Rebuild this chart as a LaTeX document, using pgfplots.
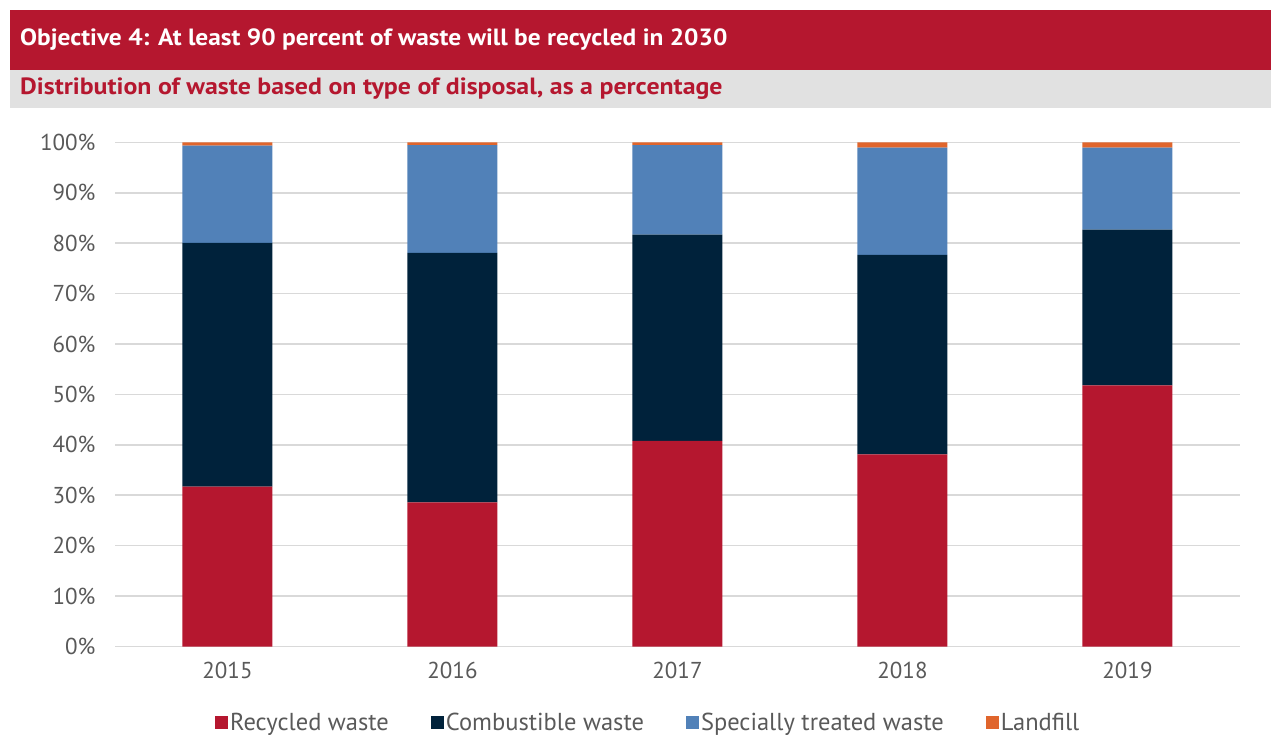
\documentclass[border=0pt]{standalone}
\usepackage{pgfplots}
\pgfplotsset{compat=1.18}
\usepackage{fontspec}
\setmainfont{PT Sans}
\newfontfamily\titlefont[FakeStretch=1.08]{PT Sans}
\newfontfamily\subfont[FakeStretch=1.1]{PT Sans}
\definecolor{hdrred}{HTML}{B5172F}
\definecolor{bandgray}{HTML}{E1E1E1}
\definecolor{navy}{HTML}{00223B}
\definecolor{sblue}{HTML}{5181B8}
\definecolor{lorange}{HTML}{E0652C}
\definecolor{gridgray}{HTML}{D9D9D9}
\definecolor{txtgray}{HTML}{595959}
\begin{document}
\begin{tikzpicture}
\path[use as bounding box] (0pt,0pt) rectangle (1271pt,736pt);
\fill[hdrred] (10pt,726pt) rectangle (1271pt,666pt);
\fill[bandgray] (10pt,666pt) rectangle (1271pt,628pt);
\node[anchor=west, text=white, inner sep=0pt, font=\titlefont\fontsize{23.5}{26}\selectfont\bfseries] at (20pt,696pt) {Objective 4: At least 90 percent of waste will be recycled in 2030};
\node[anchor=west, text=hdrred, inner sep=0pt, font=\subfont\fontsize{23.5}{26}\selectfont\bfseries] at (20pt,647.5pt) {Distribution of waste based on type of disposal, as a percentage};
\begin{axis}[
  at={(115pt,89.5pt)}, anchor=south west,
  scale only axis, width=1125pt, height=504pt,
  ybar stacked, bar width=90pt,
  xmin=-0.5, xmax=4.5, ymin=0, ymax=100,
  xtick={0,1,2,3,4}, xticklabels={2015,2016,2017,2018,2019},
  ytick={0,10,20,30,40,50,60,70,80,90,100},
  yticklabels={0\%,10\%,20\%,30\%,40\%,50\%,60\%,70\%,80\%,90\%,100\%},
  ymajorgrids, grid style={draw=gridgray, line width=1.6pt},
  axis line style={draw=none},
  major tick length=0pt,
  tick label style={text=txtgray, font=\fontsize{23}{26}\selectfont},
  yticklabel style={anchor=east, xshift=-16pt},
  xticklabel style={anchor=north, yshift=-12pt},
  legend style={at={(0.474,-0.151)}, anchor=center, draw=none, fill=none,
    legend columns=4, font=\fontsize{24.5}{27}\selectfont, text=txtgray,
    /tikz/every even column/.append style={column sep=40pt}},
  legend image code/.code={\fill[#1] (0pt,-6.5pt) rectangle (13pt,6.5pt);},
]
\addplot[fill=hdrred, draw=none] coordinates {(0,31.7) (1,28.6) (2,40.8) (3,38.1) (4,51.8)};
\addplot[fill=navy, draw=none] coordinates {(0,48.4) (1,49.5) (2,40.9) (3,39.6) (4,30.9)};
\addplot[fill=sblue, draw=none] coordinates {(0,19.3) (1,21.4) (2,17.8) (3,21.3) (4,16.3)};
\addplot[fill=lorange, draw=none] coordinates {(0,0.6) (1,0.5) (2,0.5) (3,1.0) (4,1.0)};
\legend{Recycled waste, Combustible waste, Specially treated waste, Landfill}
\end{axis}
\end{tikzpicture}
\end{document}
